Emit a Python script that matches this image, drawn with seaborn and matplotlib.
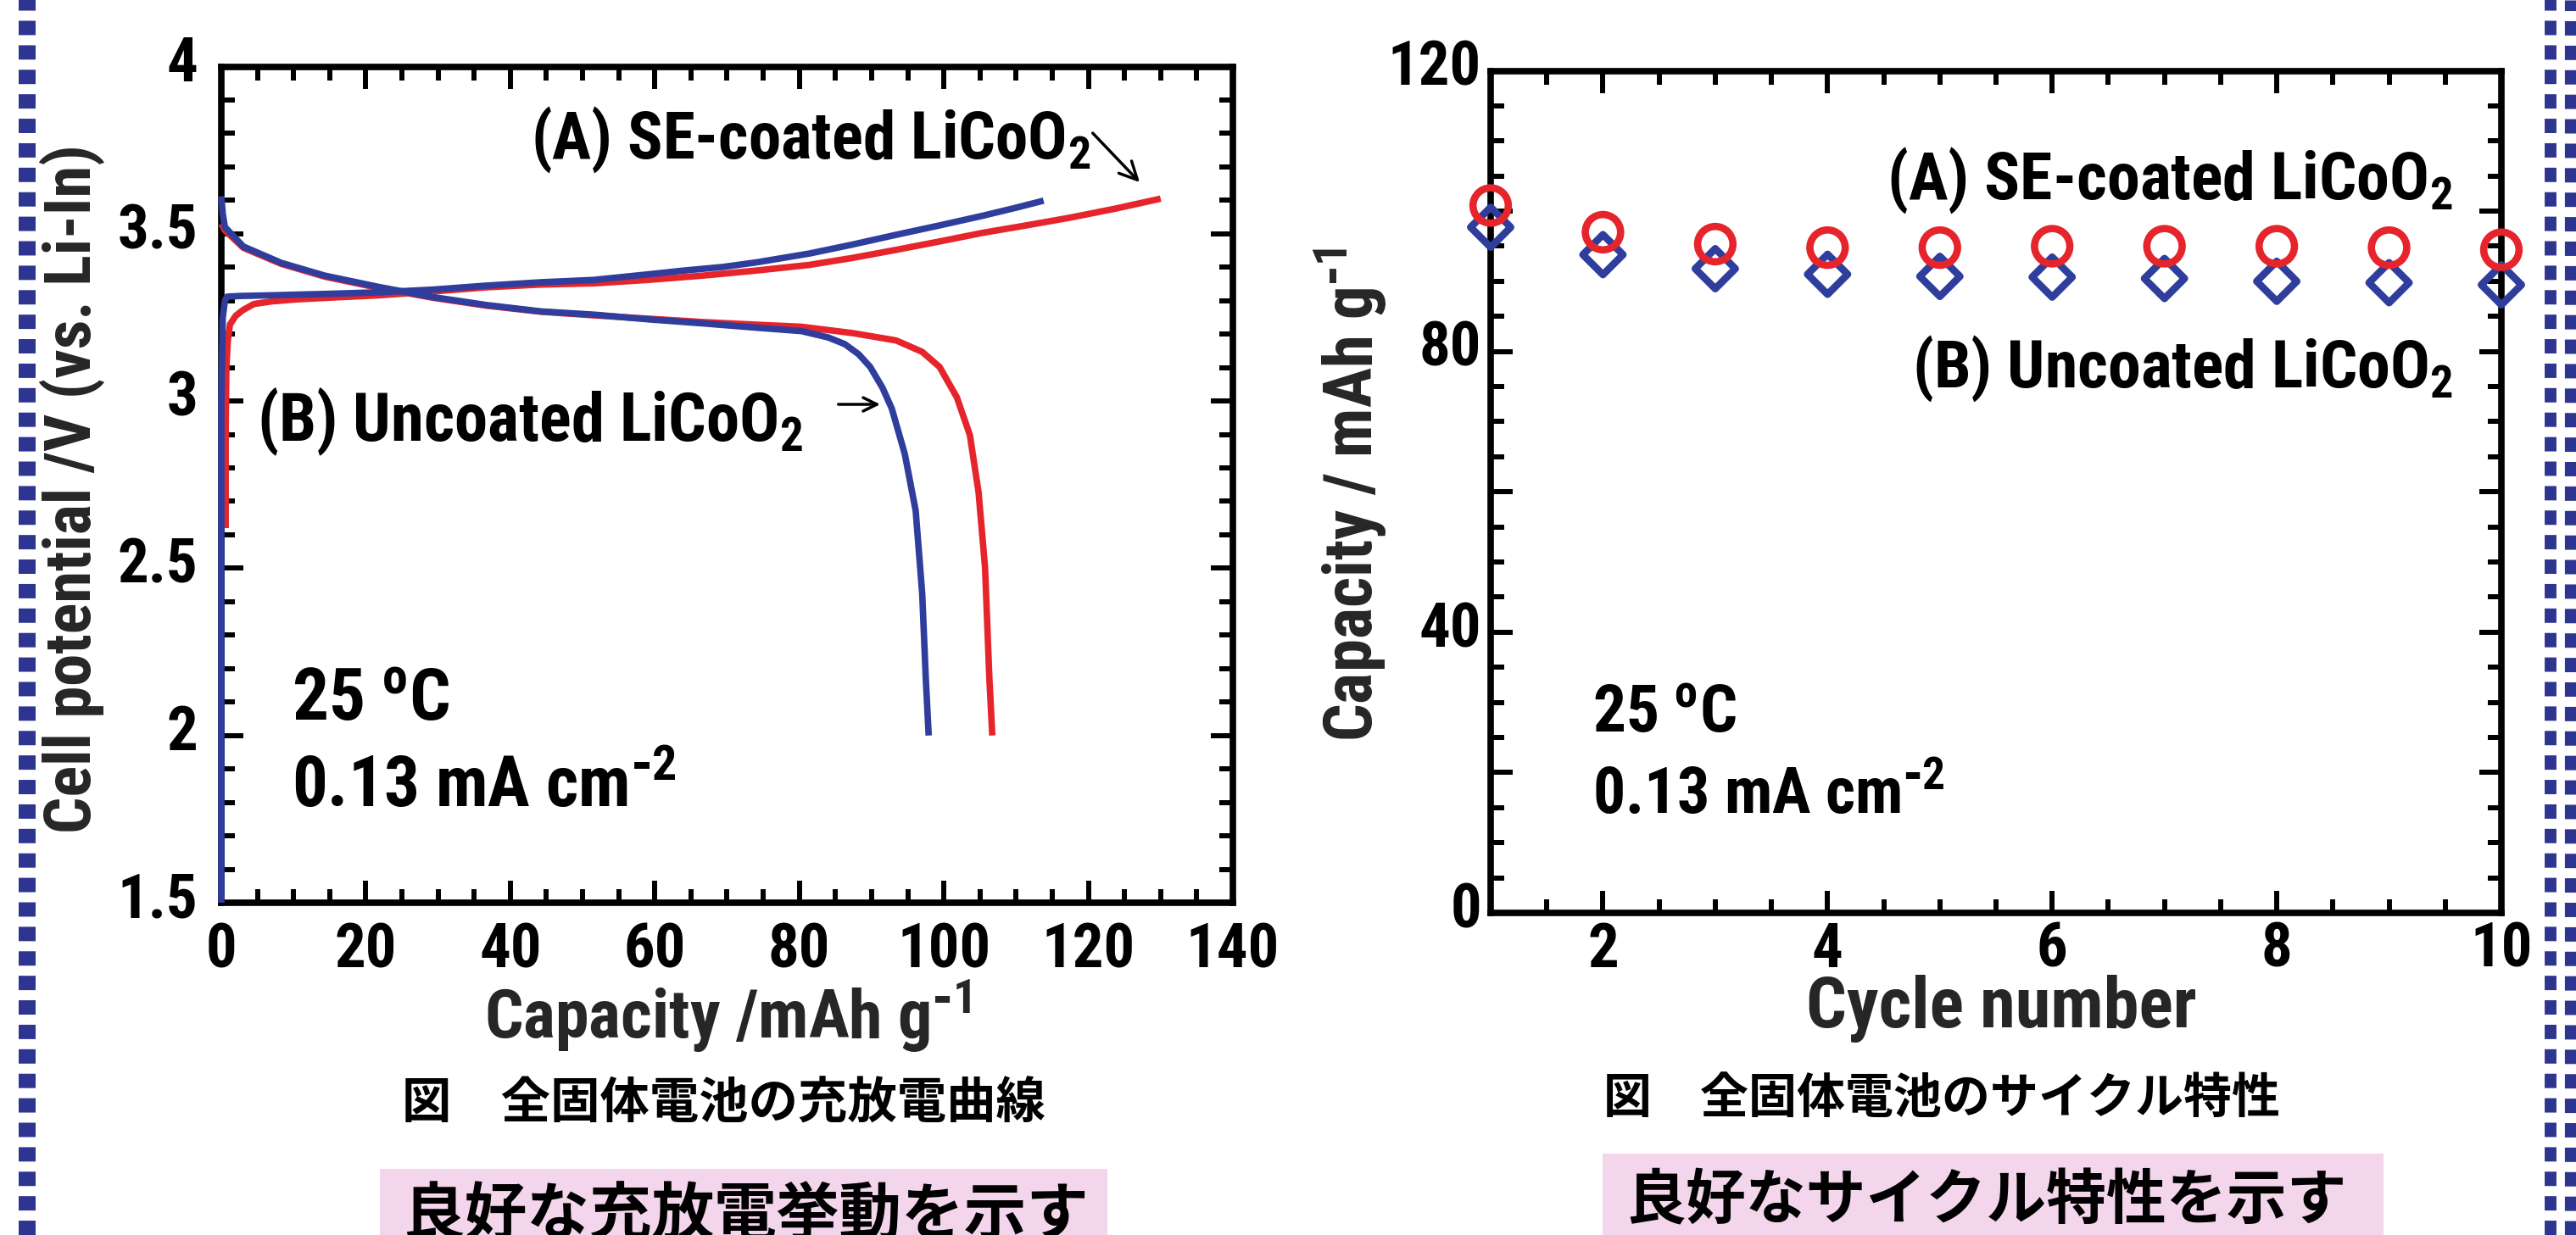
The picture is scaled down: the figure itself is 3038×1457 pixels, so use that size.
import os
import matplotlib
matplotlib.use("Agg")
import seaborn as sns
import matplotlib.pyplot as plt
import matplotlib.transforms as mtransforms
from matplotlib import font_manager as fm
from matplotlib.font_manager import FontProperties
from matplotlib.patches import Rectangle
from matplotlib.lines import Line2D
from matplotlib.ticker import FixedLocator, MultipleLocator

# ---------------- charge / discharge curves (capacity mAh/g, potential V) ----------------
coated_charge_cap = [0.6, 0.6, 0.7, 0.9, 1.2, 2.0, 3.0, 4.5, 7.0, 10.5, 15.0, 21.8, 29.0,
                     36.7, 44.0, 51.7, 59.0, 66.7, 74.0, 81.4, 87.4, 93.4, 99.4, 105.4,
                     111.4, 117.4, 123.7, 130.0]
coated_charge_v = [2.62, 2.90, 3.10, 3.18, 3.229, 3.255, 3.272, 3.290, 3.298, 3.304, 3.309,
                   3.316, 3.327, 3.340, 3.348, 3.352, 3.362, 3.375, 3.390, 3.407, 3.428,
                   3.452, 3.477, 3.503, 3.525, 3.548, 3.575, 3.605]

coated_discharge_cap = [0.0, 0.5, 3.05, 8.3, 14.3, 21.8, 29.2, 36.7, 44.2, 51.7, 59.2, 66.7,
                        74.2, 80.3, 87.4, 93.4, 97.0, 99.4, 101.8, 103.6, 104.8, 105.7,
                        106.3, 106.7]
coated_discharge_v = [3.53, 3.51, 3.458, 3.41, 3.372, 3.338, 3.309, 3.285, 3.267, 3.256,
                      3.246, 3.236, 3.228, 3.222, 3.203, 3.181, 3.147, 3.102, 3.011, 2.898,
                      2.728, 2.502, 2.17, 2.0]

uncoated_charge_cap = [0.0, 0.0, 0.2, 0.5, 0.8, 2.5, 6.8, 14.0, 21.8, 29.2, 36.7, 44.2, 51.5,
                       59.2, 64.0, 69.5, 74.2, 81.4, 87.4, 93.4, 99.4, 105.4, 110.0, 113.8]
uncoated_charge_v = [1.5, 3.0, 3.25, 3.30, 3.312, 3.314, 3.316, 3.320, 3.325, 3.333, 3.345,
                     3.355, 3.362, 3.379, 3.390, 3.401, 3.415, 3.441, 3.468, 3.497, 3.525,
                     3.554, 3.578, 3.599]

uncoated_discharge_cap = [0.0, 0.2, 0.5, 3.05, 8.3, 14.3, 21.8, 29.2, 36.7, 44.2, 51.7, 59.2,
                          66.7, 74.2, 80.3, 84.0, 86.3, 88.2, 89.8, 91.5, 92.8, 94.6, 96.1,
                          97.0, 97.5, 97.9]
uncoated_discharge_v = [3.612, 3.56, 3.52, 3.462, 3.413, 3.375, 3.341, 3.311, 3.287, 3.268,
                        3.258, 3.244, 3.232, 3.219, 3.209, 3.190, 3.170, 3.140, 3.102, 3.040,
                        2.977, 2.841, 2.672, 2.425, 2.170, 2.0]

# ---------------- cycle performance ----------------
cycle_no = [1, 2, 3, 4, 5, 6, 7, 8, 9, 10]
coated_capacity = [100.8, 97.0, 95.3, 94.8, 94.8, 95.0, 95.0, 95.0, 94.8, 94.5]
uncoated_capacity = [97.7, 93.8, 91.8, 91.0, 90.7, 90.6, 90.4, 90.0, 89.8, 89.5]

# ---------------- axis ticks ----------------
cap_ticks = [0, 20, 40, 60, 80, 100, 120, 140]
cap_labels = ["0", "20", "40", "60", "80", "100", "120", "140"]
volt_ticks = [1.5, 2.0, 2.5, 3.0, 3.5, 4.0]
volt_labels = ["1.5", "2", "2.5", "3", "3.5", "4"]
cycle_ticks = [2, 4, 6, 8, 10]
cycle_labels = ["2", "4", "6", "8", "10"]
capy_ticks = [0, 20, 40, 60, 80, 100, 120]
capy_labels = ["0", "", "40", "", "80", "", "120"]

RED = "#e5252b"
BLUE = "#2f3d9c"
BORDER = "#2d3590"
PINK = "#f4d6ec"

W, H, DPI = 3038, 1457, 100


def pick_narrow_bold():
    """Find a bold, preferably condensed, sans-serif face among installed fonts."""
    entries = [e for e in fm.fontManager.ttflist if e.style == "normal"]

    def wt(e):
        w = e.weight
        if isinstance(w, str):
            w = fm.weight_dict.get(w, 400)
        return w

    def base(e):
        return os.path.basename(e.fname).lower()

    rules = [
        lambda e: e.name == "Liberation Sans Narrow",
        lambda e: e.name == "Roboto Condensed" or base(e).startswith("robotocondensed"),
        lambda e: e.name.startswith("Open Sans Cond") or base(e).startswith("opensans-cond"),
        lambda e: base(e).startswith("notosans-condensed"),
        lambda e: base(e).startswith("dejavusanscondensed"),
        lambda e: e.name == "Liberation Sans",
    ]
    for rule in rules:
        cands = [e for e in entries if rule(e)]
        if cands:
            return min(cands, key=lambda e: abs(wt(e) - 700)).fname
    return fm.findfont(FontProperties(family="DejaVu Sans", weight="bold"))


sns.set_theme(style="white")
plt.rcParams["font.family"] = ["Liberation Sans", "DejaVu Sans"]
plt.rcParams["font.weight"] = "bold"
plt.rcParams["axes.labelweight"] = "bold"
plt.rcParams["mathtext.default"] = "regular"
plt.rcParams["lines.scale_dashes"] = False
plt.rcParams["axes.linewidth"] = 5.5
plt.rcParams["axes.edgecolor"] = "black"
plt.rcParams["text.color"] = "black"
plt.rcParams["xtick.color"] = "black"
plt.rcParams["ytick.color"] = "black"

LATIN_FILE = pick_narrow_bold()


def lf(size):
    return FontProperties(fname=LATIN_FILE, size=size)


CJK = ["Noto Sans CJK JP", "DejaVu Sans"]

fig = plt.figure(figsize=(W / DPI, H / DPI), dpi=DPI, facecolor="white")


def fx(px):
    return px / W


def fy(py):
    return 1 - py / H


ax1 = fig.add_axes([fx(261), fy(1065), (1454 - 261) / W, (1065 - 78.5) / H])
ax2 = fig.add_axes([fx(1758), fy(1077), (2950 - 1758) / W, (1077 - 83.5) / H])

# ---------------- left: charge/discharge curves ----------------
line_kw = dict(sort=False, estimator=None, lw=5.5, solid_capstyle="butt", legend=False,
               clip_on=False, zorder=3, ax=ax1)
sns.lineplot(x=coated_charge_cap, y=coated_charge_v, color=RED, **line_kw)
sns.lineplot(x=coated_discharge_cap, y=coated_discharge_v, color=RED, **line_kw)
sns.lineplot(x=uncoated_charge_cap, y=uncoated_charge_v, color=BLUE, **line_kw)
sns.lineplot(x=uncoated_discharge_cap, y=uncoated_discharge_v, color=BLUE, **line_kw)

ax1.set_xlim(0, 140)
ax1.set_ylim(1.5, 4.0)
ax1.xaxis.set_major_locator(FixedLocator(cap_ticks))
ax1.set_xticklabels(cap_labels)
ax1.xaxis.set_minor_locator(MultipleLocator(5))
ax1.yaxis.set_major_locator(FixedLocator(volt_ticks))
ax1.set_yticklabels(volt_labels)
ax1.yaxis.set_minor_locator(MultipleLocator(0.1))

# ---------------- right: cycle performance ----------------
sns.scatterplot(x=cycle_no, y=uncoated_capacity, marker="D", s=580, color=BLUE,
                facecolor="none", edgecolor=BLUE, linewidth=6.2, clip_on=False,
                zorder=3, legend=False, ax=ax2)
sns.scatterplot(x=cycle_no, y=coated_capacity, marker="o", s=900, color=RED,
                facecolor="none", edgecolor=RED, linewidth=6.2, clip_on=False,
                zorder=4, legend=False, ax=ax2)

ax2.set_xlim(1, 10)
ax2.set_ylim(0, 120)
ax2.xaxis.set_major_locator(FixedLocator(cycle_ticks))
ax2.set_xticklabels(cycle_labels)
ax2.xaxis.set_minor_locator(MultipleLocator(0.5))
ax2.yaxis.set_major_locator(FixedLocator(capy_ticks))
ax2.set_yticklabels(capy_labels)
ax2.yaxis.set_minor_locator(MultipleLocator(5))

tick_labels = []
for ax, xpad, ypad in ((ax1, 16, 20), (ax2, 7, 8)):
    ax.set_facecolor("white")
    for sp in ax.spines.values():
        sp.set_visible(True)
        sp.set_linewidth(5.5)
        sp.set_color("black")
    ax.tick_params(which="both", direction="in", top=True, right=True,
                   bottom=True, left=True, width=4.3, color="black")
    ax.tick_params(which="major", length=18.5)
    ax.tick_params(which="minor", length=11.5)
    ax.tick_params(axis="x", which="major", pad=xpad)
    ax.tick_params(axis="y", which="major", pad=ypad)
    lift = mtransforms.ScaledTranslation(0, 7 / 72, fig.dpi_scale_trans)
    for lab in ax.get_xticklabels():
        lab.set_fontproperties(lf(52))
        tick_labels.append(lab)
    for lab in ax.get_yticklabels():
        lab.set_fontproperties(lf(52))
        lab.set_transform(lab.get_transform() + lift)
        tick_labels.append(lab)

# axis titles
ax1.set_xlabel(r"Capacity /mAh g$^{\text{-}1}$", fontproperties=lf(56), va="baseline")
ax1.xaxis.set_label_coords(0.5004, -0.162)
ax1.set_ylabel("Cell potential /V (vs. Li-In)", fontproperties=lf(56), va="baseline")
ax1.yaxis.set_label_coords(-0.129, 0.495)

ax2.set_xlabel("Cycle number", fontproperties=lf(56), va="baseline")
ax2.xaxis.set_label_coords(0.505, -0.136)
ax2.set_ylabel(r"Capacity / mAh g$^{\text{-}1}$", fontproperties=lf(56), va="baseline")
ax2.yaxis.set_label_coords(-0.117, 0.497)

# annotations on the curves
tA1 = ax1.text(42.8, 3.725, r"(A) SE-coated LiCoO$_2$", fontproperties=lf(56),
               ha="left", va="baseline", zorder=5)
ax1.annotate("", xy=(127.1, 3.654), xytext=(120.6, 3.801),
             arrowprops=dict(arrowstyle="->,head_length=0.5,head_width=0.25",
                             lw=2.5, color="black", mutation_scale=30,
                             shrinkA=0, shrinkB=0))
tB1 = ax1.text(4.9, 2.881, r"(B) Uncoated LiCoO$_2$", fontproperties=lf(56),
               ha="left", va="baseline", zorder=5)
ax1.annotate("", xy=(91.2, 2.990), xytext=(85.4, 2.990),
             arrowprops=dict(arrowstyle="->,head_length=0.45,head_width=0.22",
                             lw=2.5, color="black", mutation_scale=26,
                             shrinkA=0, shrinkB=0))
tT1 = ax1.text(9.74, 2.045, r"25 $^o$C", fontproperties=lf(54), ha="left", va="baseline")
tJ1 = ax1.text(9.74, 1.786, r"0.13 mA cm$^{\text{-}2}$", fontproperties=lf(54),
               ha="left", va="baseline")

tA2 = ax2.text(9.57, 101.7, r"(A) SE-coated LiCoO$_2$", fontproperties=lf(56),
               ha="right", va="baseline")
tB2 = ax2.text(9.57, 74.9, r"(B) Uncoated LiCoO$_2$", fontproperties=lf(56),
               ha="right", va="baseline")
tT2 = ax2.text(1.906, 25.7, r"25 $^o$C", fontproperties=lf(54), ha="left", va="baseline")
tJ2 = ax2.text(1.906, 14.1, r"0.13 mA cm$^{\text{-}2}$", fontproperties=lf(54),
               ha="left", va="baseline")

# figure captions
fig.text(fx(853), fy(1273), "図\u3000全固体電池の充放電曲線", family=CJK, fontsize=42,
         fontweight="bold", ha="center", va="top")
fig.text(fx(2290), fy(1267), "図\u3000全固体電池のサイクル特性", family=CJK, fontsize=41,
         fontweight="bold", ha="center", va="top")

# highlighted summary boxes
fig.add_artist(Rectangle((fx(448), 0), (1306 - 448) / W, fy(1379), transform=fig.transFigure,
                         facecolor=PINK, edgecolor="none", zorder=0))
fig.add_artist(Rectangle((fx(1890), 0), (2811 - 1890) / W, fy(1361), transform=fig.transFigure,
                         facecolor=PINK, edgecolor="none", zorder=0))
fig.text(fx(474), fy(1398), "良好な充放電挙動を示す", family=CJK, fontsize=53,
         fontweight="bold", ha="left", va="top", zorder=1)
fig.text(fx(1917), fy(1381), "良好なサイクル特性を示す", family=CJK, fontsize=51,
         fontweight="bold", ha="left", va="top", zorder=1)

# dashed slide frame
fig.add_artist(Line2D([fx(32), fx(32)], [0, 1], transform=fig.transFigure, color=BORDER,
                      lw=14.4, linestyle=(0, (12.2, 8.6)), dash_capstyle="butt"))
fig.add_artist(Line2D([fx(3008), fx(3008)], [0, 1], transform=fig.transFigure, color=BORDER,
                      lw=10, linestyle=(0, (12.2, 8.6)), dash_capstyle="butt"))
fig.add_artist(Line2D([fx(3031), fx(3031)], [0, 1], transform=fig.transFigure, color=BORDER,
                      lw=9.5, linestyle=(0, (12.2, 8.6)), dash_capstyle="butt"))

# scale the Latin lettering so each string spans its intended width;
# the last factor trades a little width for glyph height
fig.canvas.draw()
renderer = fig.canvas.get_renderer()
fit_items = [
    (tA1, 660, "w", 1.0), (tB1, 644, "w", 1.0), (tA2, 667, "w", 1.0), (tB2, 638, "w", 1.0),
    (tT1, 173, "w", 1.08), (tJ1, 428, "w", 1.06), (tT2, 157, "w", 1.08), (tJ2, 392, "w", 1.06),
    (ax1.xaxis.label, 541, "w", 1.06), (ax1.yaxis.label, 789, "h", 1.03),
    (ax2.xaxis.label, 427, "w", 1.08), (ax2.yaxis.label, 555, "h", 1.05),
]
for art, target, dim, extra in fit_items:
    bb = art.get_window_extent(renderer)
    cur = bb.width if dim == "w" else bb.height
    if cur > 0:
        art.set_fontsize(min(art.get_fontsize() * target / cur * extra, 62))

probe = [t for t in ax1.get_xticklabels() if t.get_text() == "120"][0]
pw = probe.get_window_extent(renderer).width
if pw > 0:
    tick_size = min(52 * 96 / pw * 1.15, 58)
    for lab in tick_labels:
        lab.set_fontsize(tick_size)

fig.savefig("out.png", dpi=DPI, facecolor="white")
